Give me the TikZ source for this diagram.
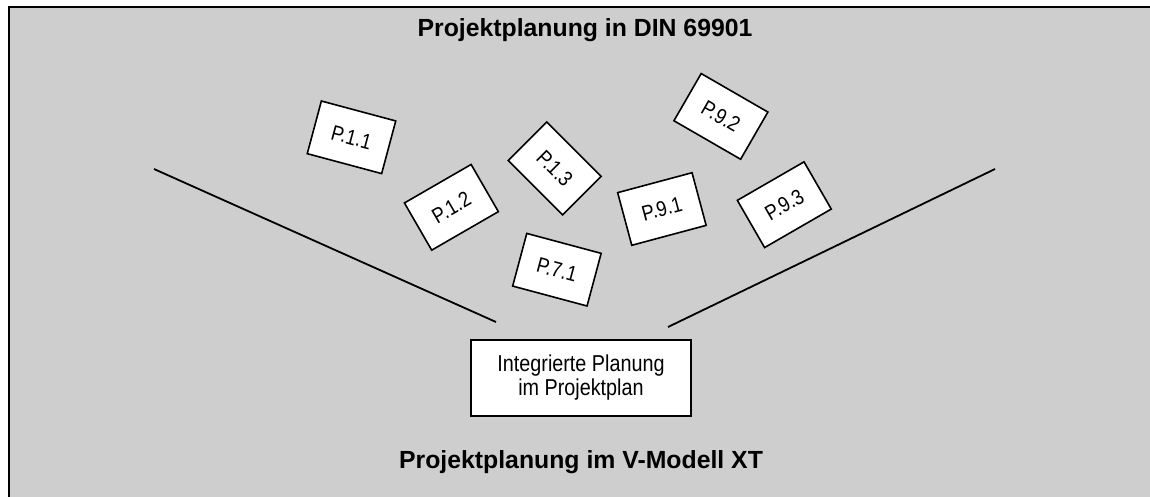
\documentclass[tikz,border=0pt]{standalone}
\usepackage{fontspec}
\setmainfont{Liberation Sans}
\newfontfamily\narrowfont[FakeStretch=0.86]{Liberation Sans}
\definecolor{bggray}{RGB}{206,206,206}
\tikzset{
  pbox/.style={draw=black, line width=1.6pt, fill=white, minimum width=77pt, minimum height=54.5pt, inner sep=0pt,
    font=\narrowfont\fontsize{21.5}{24}\selectfont},
  mainbox/.style={draw=black, line width=1.6pt, fill=white, minimum width=220pt, minimum height=76pt, inner sep=0pt,
    align=center, font=\narrowfont\fontsize{23}{24}\selectfont},
  title/.style={font=\bfseries\fontsize{24.8}{27}\selectfont},
  vline/.style={line width=1.8pt}
}
\begin{document}
\begin{tikzpicture}[x=1pt,y=-1pt]
\useasboundingbox (0,0) rectangle (1150,496);
\clip (0,0) rectangle (1150,496);
\draw[fill=bggray, line width=2pt] (9,7) rectangle (1170,520);
\node[title] (t1) at (585,30) {Projektplanung in DIN 69901};
\node[title] (t2) at (581,462) {Projektplanung im V-Modell XT};
\coordinate (l1) at (154,169);
\coordinate (l2) at (496,322);
\coordinate (r1) at (995,169);
\coordinate (r2) at (668,327);
\draw[vline] (l1) -- (l2);
\draw[vline] (r1) -- (r2);
\node[mainbox] (ip) at (581,378) {Integrierte Planung\\im Projektplan};
\node[pbox, rotate=-15] (p11) at (351.5,137.3) {P.1.1};
\node[pbox, rotate=30] (p12) at (451.4,207.3) {P.1.2};
\node[pbox, rotate=-45] (p13) at (554.7,168.4) {P.1.3};
\node[pbox, rotate=-15] (p71) at (556.9,269.7) {P.7.1};
\node[pbox, rotate=-30] (p92) at (720.9,116.4) {P.9.2};
\node[pbox, rotate=15] (p91) at (661.9,209) {P.9.1};
\node[pbox, rotate=30] (p93) at (784.3,204.7) {P.9.3};
\end{tikzpicture}
\end{document}
